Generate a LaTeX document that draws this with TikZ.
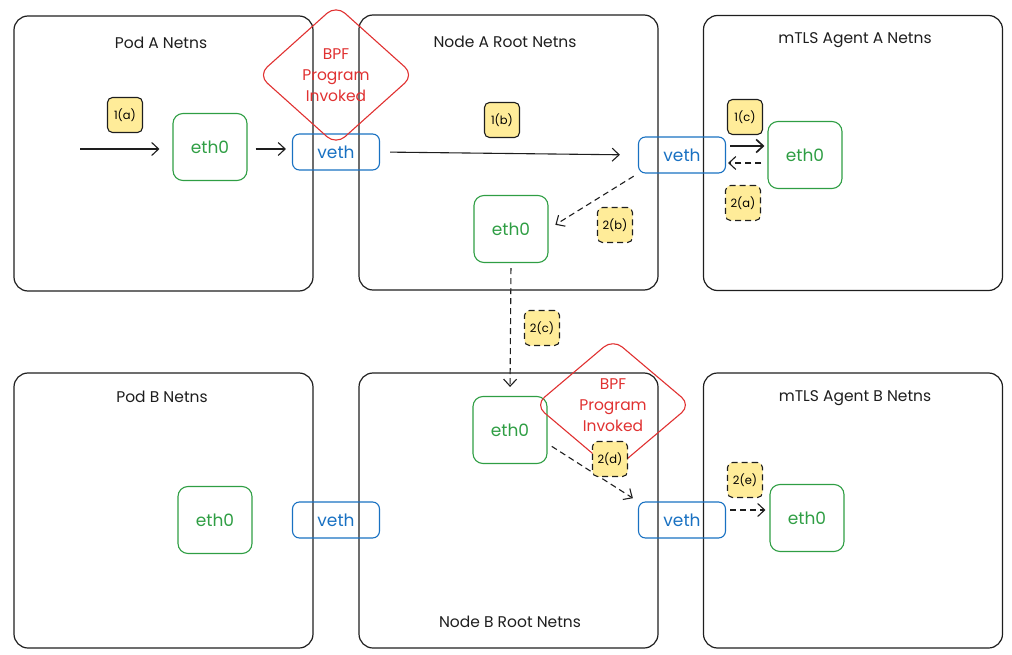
\documentclass[tikz,border=0pt]{standalone}
\usepackage{fontspec}
\setmainfont{Poppins}
\usepackage{tikz}
\usetikzlibrary{arrows.meta,shapes.geometric}
\definecolor{ink}{HTML}{1E1E1E}
\definecolor{ethgreen}{HTML}{2F9E44}
\definecolor{vethblue}{HTML}{1971C2}
\definecolor{bpfred}{HTML}{E03131}
\definecolor{tagyellow}{HTML}{FFEC99}
\tikzstyle{netns} = [draw=ink, line width=1.2pt, rounded corners=14pt, minimum width=299pt, minimum height=275pt]
\tikzstyle{title} = [text=ink, font=\fontsize{15.5}{18}\selectfont]
\tikzstyle{ethbox} = [draw=ethgreen, text=ethgreen, line width=1.1pt, rounded corners=10pt, minimum width=74pt, minimum height=67pt, font=\fontsize{17}{20}\selectfont]
\tikzstyle{vethbox} = [draw=vethblue, text=vethblue, line width=1.1pt, rounded corners=7pt, minimum width=87pt, minimum height=36pt, font=\fontsize{17}{20}\selectfont]
\tikzstyle{bpf} = [diamond, draw=bpfred, text=bpfred, line width=1.1pt, rounded corners=12pt, minimum width=156pt, minimum height=140pt, inner sep=0pt, align=center, font=\fontsize{15.5}{21}\selectfont]
\tikzstyle{tag} = [draw=ink, fill=tagyellow, line width=1.1pt, rounded corners=5pt, minimum size=35pt, inner sep=0pt, font=\fontsize{11.5}{13}\selectfont]
\tikzstyle{tagdash} = [tag, dash pattern=on 6pt off 4pt]
\tikzstyle{arrow} = [-{Straight Barb[length=7pt,width=13pt]}, draw=ink, line width=1.1pt]
\tikzstyle{backarrow} = [arrow, dash pattern=on 6pt off 4pt]

\begin{document}
\begin{tikzpicture}[x=1pt,y=-1pt]
  \useasboundingbox (0,0) rectangle (1012,655);
  % netns boxes
  \node[netns] (podA) at (163.5,153.5) {};
  \node[netns] (rootA) at (508.5,152.5) {};
  \node[netns] (agentA) at (853,153) {};
  \node[netns] (podB) at (163.5,510.5) {};
  \node[netns] (rootB) at (508.5,510.5) {};
  \node[netns] (agentB) at (853,510.5) {};
  \node[title] (podAtitle) at (161,43) {Pod A Netns};
  \node[title] (rootAtitle) at (505,42) {Node A Root Netns};
  \node[title] (agentAtitle) at (855,40) {mTLS Agent A Netns};
  \node[title] (podBtitle) at (162,397) {Pod B Netns};
  \node[title] (rootBtitle) at (510,622) {Node B Root Netns};
  \node[title] (agentBtitle) at (855,398) {mTLS Agent B Netns};
  % interfaces
  \node[ethbox] (ethPodA) at (210,147) {eth0};
  \node[ethbox] (ethRootA) at (511,229) {eth0};
  \node[ethbox] (ethAgentA) at (805,155) {eth0};
  \node[ethbox] (ethPodB) at (215,520) {eth0};
  \node[ethbox] (ethRootB) at (510,430) {eth0};
  \node[ethbox] (ethAgentB) at (807,518) {eth0};
  \node[vethbox] (vethPodA) at (336,152) {veth};
  \node[vethbox] (vethAgentA) at (682,155) {veth};
  \node[vethbox] (vethPodB) at (336,520) {veth};
  \node[vethbox] (vethAgentB) at (682,520) {veth};
  % bpf hooks
  \node[bpf] (bpfA) at (336,75) {BPF\\Program\\Invoked};
  \node[bpf, minimum height=132pt] (bpfB) at (613,405) {BPF\\Program\\Invoked};
  % flow
  \coordinate (inA) at (80,149);
  \draw[arrow, shorten >=13pt] (inA) -- (inA -| ethPodA.west);
  \draw[arrow, shorten <=8pt, shorten >=6pt] (ethPodA.east |- inA) -- (vethPodA.west |- inA);
  \draw[arrow, shorten <=10pt, shorten >=18pt] (vethPodA.east) -- (vethAgentA.west);
  \draw[arrow, line width=1.7pt, shorten <=4pt, shorten >=3pt] ([yshift=9pt]vethAgentA.east) -- ([yshift=9pt]ethAgentA.west);
  \draw[backarrow, shorten <=6pt, shorten >=2pt] ([yshift=-8pt]ethAgentA.west) -- ([yshift=-8pt]vethAgentA.east |- ethAgentA.west);
  \draw[backarrow, shorten <=5pt, shorten >=8pt] (vethAgentA.south west) -- (ethRootA.east);
  \draw[backarrow, shorten <=5pt, shorten >=9pt] (ethRootA.south) -- (ethRootB.north);
  \draw[backarrow, shorten <=5pt, shorten >=6pt] (ethRootB.-20) -- (vethAgentB.north west);
  \draw[backarrow, shorten <=4pt, shorten >=4pt] ([yshift=10pt]vethAgentB.east) -- ([yshift=8pt]ethAgentB.west);
  % step tags
  \node[tag] (t1a) at (125,115) {1(a)};
  \node[tag] (t1b) at (502,120) {1(b)};
  \node[tag] (t1c) at (745,117) {1(c)};
  \node[tagdash] (t2a) at (743,203) {2(a)};
  \node[tagdash] (t2b) at (615,225) {2(b)};
  \node[tagdash] (t2c) at (542,328) {2(c)};
  \node[tagdash] (t2d) at (610,459) {2(d)};
  \node[tagdash] (t2e) at (745,480) {2(e)};
\end{tikzpicture}
\end{document}
